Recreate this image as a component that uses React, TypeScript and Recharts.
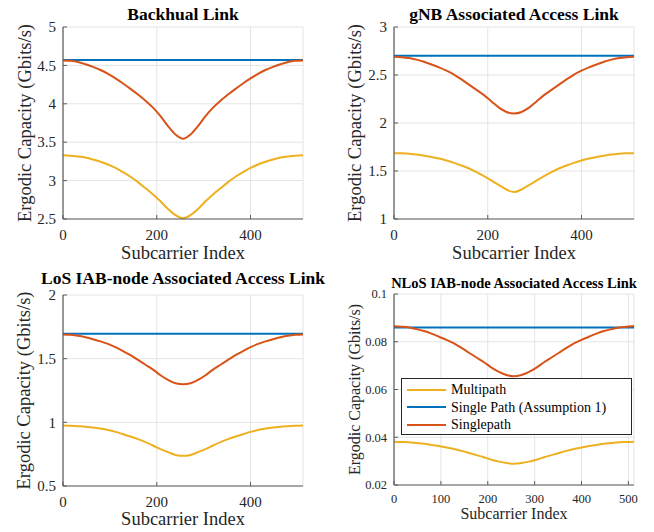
import React from 'react';
import { LineChart, Line, XAxis, YAxis, CartesianGrid, Legend } from 'recharts';

const subcarrier = [
  0, 16, 32, 48, 64, 80, 96, 112, 128, 144, 160, 176, 192, 208, 224, 240, 256,
  272, 288, 304, 320, 336, 352, 368, 384, 400, 416, 432, 448, 464, 480, 496, 512,
];
// the assumption-1 line is flat, so only its two ends are given
const assumptionIdx = [0, 512];

const backhaulMulti = [
  3.33, 3.325, 3.315, 3.3, 3.275, 3.245, 3.21, 3.165, 3.11, 3.05, 2.98, 2.9, 2.82, 2.73, 2.63, 2.55, 2.51,
  2.55, 2.63, 2.73, 2.82, 2.9, 2.98, 3.05, 3.11, 3.165, 3.21, 3.245, 3.275, 3.3, 3.315, 3.325, 3.33,
];
const backhaulAssump = [4.57, 4.57];
const backhaulSingle = [
  4.565, 4.56, 4.545, 4.515, 4.48, 4.44, 4.39, 4.33, 4.265, 4.195, 4.12, 4.04, 3.95, 3.84, 3.71, 3.6, 3.545,
  3.6, 3.71, 3.84, 3.95, 4.04, 4.12, 4.195, 4.265, 4.33, 4.39, 4.44, 4.48, 4.515, 4.545, 4.56, 4.565,
];

const gnbMulti = [
  1.686, 1.684, 1.68, 1.671, 1.66, 1.646, 1.63, 1.609, 1.585, 1.557, 1.526, 1.488, 1.446, 1.4, 1.354, 1.307, 1.28,
  1.307, 1.354, 1.4, 1.446, 1.488, 1.526, 1.557, 1.585, 1.609, 1.63, 1.646, 1.66, 1.671, 1.68, 1.684, 1.686,
];
const gnbAssump = [2.7, 2.7];
const gnbSingle = [
  2.69, 2.686, 2.676, 2.66, 2.638, 2.61, 2.58, 2.545, 2.505, 2.455, 2.4, 2.345, 2.29, 2.225, 2.16, 2.115, 2.1,
  2.115, 2.16, 2.225, 2.29, 2.345, 2.4, 2.455, 2.505, 2.545, 2.58, 2.61, 2.638, 2.66, 2.676, 2.686, 2.69,
];

const losMulti = [
  0.976, 0.974, 0.97, 0.966, 0.96, 0.951, 0.94, 0.925, 0.907, 0.889, 0.868, 0.844, 0.818, 0.79, 0.766, 0.744, 0.737,
  0.744, 0.766, 0.79, 0.818, 0.844, 0.868, 0.889, 0.907, 0.925, 0.94, 0.951, 0.96, 0.966, 0.97, 0.974, 0.976,
];
const losAssump = [1.695, 1.695];
const losSingle = [
  1.69, 1.687, 1.68, 1.668, 1.653, 1.636, 1.616, 1.59, 1.56, 1.527, 1.49, 1.452, 1.414, 1.37, 1.333, 1.307, 1.3,
  1.307, 1.333, 1.37, 1.414, 1.452, 1.49, 1.527, 1.56, 1.59, 1.616, 1.636, 1.653, 1.668, 1.68, 1.687, 1.69,
];

const nlosMulti = [
  0.0381, 0.038, 0.0379, 0.0376, 0.0373, 0.0368, 0.0363, 0.0357, 0.0351, 0.0343, 0.0334, 0.0325, 0.0316, 0.0306, 0.0298, 0.0292, 0.0289,
  0.0292, 0.0298, 0.0306, 0.0316, 0.0325, 0.0334, 0.0343, 0.0351, 0.0357, 0.0363, 0.0368, 0.0373, 0.0376, 0.0379, 0.038, 0.0381,
];
const nlosAssump = [0.086, 0.086];
const nlosSingle = [
  0.0865, 0.0863, 0.086, 0.0853, 0.0845, 0.0834, 0.0821, 0.0808, 0.0793, 0.0774, 0.0754, 0.0734, 0.0714, 0.0692, 0.0674, 0.0661, 0.0655,
  0.0661, 0.0674, 0.0692, 0.0714, 0.0734, 0.0754, 0.0774, 0.0793, 0.0808, 0.0821, 0.0834, 0.0845, 0.0853, 0.086, 0.0863, 0.0866,
];

const xTicksCoarse = [0, 200, 400];
const xTicksFine = [0, 100, 200, 300, 400, 500];
const backhaulYTicks = [2.5, 3, 3.5, 4, 4.5, 5];
const gnbYTicks = [1, 1.5, 2, 2.5, 3];
const losYTicks = [0.5, 1, 1.5, 2];
const nlosYTicks = [0.02, 0.04, 0.06, 0.08, 0.1];

const seriesNames = ['Multipath', 'Single Path (Assumption 1)', 'Singlepath'];

const COLORS = { multi: '#EDB120', assump: '#0072BD', single: '#D95319' };
const FONT = '"Liberation Serif", "Times New Roman", serif';
const AXIS = '#5c5c5c';
const TEXT = '#262626';
const TICK_LEN = 4;

const makeRows = (multi: number[], single: number[]) =>
  subcarrier.map((s, i) => ({ s, multi: multi[i], single: single[i] }));
const makeFlat = (vals: number[]) => assumptionIdx.map((s, i) => ({ s, assump: vals[i] }));

const BottomTick = (p: any) => (
  <g>
    <line x1={p.x} y1={p.y} x2={p.x} y2={p.y - TICK_LEN} stroke={AXIS} />
    <text x={p.x} y={p.y + p.dy} textAnchor="middle" fontSize={p.fs} fill={TEXT} fontFamily={FONT}>
      {p.payload.value}
    </text>
  </g>
);

const LeftTick = (p: any) => (
  <g>
    <line x1={p.x} y1={p.y} x2={p.x + TICK_LEN} y2={p.y} stroke={AXIS} />
    <text x={p.x - 7} y={p.y} dy="0.35em" textAnchor="end" fontSize={p.fs} fill={TEXT} fontFamily={FONT}>
      {p.payload.value}
    </text>
  </g>
);

const TopTick = (p: any) => <line x1={p.x} y1={p.y} x2={p.x} y2={p.y + TICK_LEN} stroke={AXIS} />;
const RightTick = (p: any) => <line x1={p.x} y1={p.y} x2={p.x - TICK_LEN} y2={p.y} stroke={AXIS} />;

const LegendBox = ({ payload }: any) => (
  <div
    style={{
      border: '1px solid #262626',
      background: '#fff',
      width: 231,
      height: 57,
      boxSizing: 'border-box',
      paddingTop: 2,
      fontFamily: FONT,
      fontSize: 14,
      color: '#000',
    }}
  >
    {(payload || []).map((e: any) => (
      <div key={e.value} style={{ display: 'flex', alignItems: 'center', height: 17.5, lineHeight: '17.5px' }}>
        <span style={{ display: 'inline-block', width: 39, height: 2, background: e.color, marginLeft: 5, marginRight: 5 }} />
        <span>{e.value}</span>
      </div>
    ))}
  </div>
);

interface PanelProps {
  left: number;
  top: number;
  title: string;
  titleSize: number;
  titleTop: number;
  rows: any[];
  flat: any[];
  yDomain: [number, number];
  yTicks: number[];
  xTicks: number[];
  yAxisWidth: number;
  marginTop: number;
  marginRight: number;
  xAxisHeight: number;
  tickSize: number;
  xTickDy: number;
  labelSize: number;
  xLabelOffset: number;
  yLabelOffset: number;
  legend?: boolean;
}

function Panel(p: PanelProps) {
  const plotW = 327 - p.yAxisWidth - p.marginRight;
  return (
    <div style={{ position: 'absolute', left: p.left, top: p.top, width: 327, height: 266 }}>
      <LineChart
        width={327}
        height={266}
        data={p.rows}
        margin={{ top: p.marginTop, right: p.marginRight, bottom: 0, left: 0 }}
      >
        <CartesianGrid stroke="#e4e4e4" strokeWidth={1} />
        <XAxis
          dataKey="s"
          type="number"
          domain={[0, 512]}
          ticks={p.xTicks}
          interval={0}
          height={p.xAxisHeight}
          axisLine={{ stroke: AXIS, strokeWidth: 1.2 }}
          tickLine={false}
          tickSize={0}
          tickMargin={0}
          tick={(t: any) => <BottomTick {...t} fs={p.tickSize} dy={p.xTickDy} />}
          label={{
            value: 'Subcarrier Index',
            position: 'insideBottom',
            offset: p.xLabelOffset,
            fontSize: p.labelSize,
            fill: TEXT,
            fontFamily: FONT,
          }}
        />
        <XAxis
          xAxisId="top"
          orientation="top"
          type="number"
          domain={[0, 512]}
          ticks={p.xTicks}
          interval={0}
          height={0}
          axisLine={{ stroke: AXIS, strokeWidth: 1.2 }}
          tickLine={false}
          tickSize={0}
          tickMargin={0}
          tick={TopTick}
        />
        <YAxis
          type="number"
          domain={p.yDomain}
          ticks={p.yTicks}
          interval={0}
          width={p.yAxisWidth}
          axisLine={{ stroke: AXIS, strokeWidth: 1.2 }}
          tickLine={false}
          tickSize={0}
          tickMargin={0}
          tick={(t: any) => <LeftTick {...t} fs={p.tickSize} />}
          label={{
            value: 'Ergodic Capacity (Gbits/s)',
            angle: -90,
            position: 'insideLeft',
            offset: p.yLabelOffset,
            fontSize: p.labelSize,
            fill: TEXT,
            fontFamily: FONT,
            style: { textAnchor: 'middle' },
          }}
        />
        <YAxis
          yAxisId="right"
          orientation="right"
          type="number"
          domain={p.yDomain}
          ticks={p.yTicks}
          interval={0}
          width={0}
          axisLine={{ stroke: AXIS, strokeWidth: 1.2 }}
          tickLine={false}
          tickSize={0}
          tickMargin={0}
          tick={RightTick}
        />
        <Line type="monotone" dataKey="multi" name={seriesNames[0]} stroke={COLORS.multi} strokeWidth={2} dot={false} isAnimationActive={false} />
        <Line data={p.flat} type="linear" dataKey="assump" name={seriesNames[1]} stroke={COLORS.assump} strokeWidth={2} dot={false} isAnimationActive={false} />
        <Line type="monotone" dataKey="single" name={seriesNames[2]} stroke={COLORS.single} strokeWidth={2} dot={false} isAnimationActive={false} />
        {p.legend && (
          <Legend
            layout="vertical"
            align="center"
            verticalAlign="middle"
            wrapperStyle={{ left: 74, top: 112, width: 231 }}
            content={LegendBox}
          />
        )}
      </LineChart>
      <div
        style={{
          position: 'absolute',
          left: p.yAxisWidth - 60,
          width: plotW + 120,
          top: p.titleTop,
          textAlign: 'center',
          fontFamily: FONT,
          fontWeight: 'bold',
          fontSize: p.titleSize,
          lineHeight: 1,
          whiteSpace: 'nowrap',
          color: '#000',
        }}
      >
        {p.title}
      </div>
    </div>
  );
}

export default function App() {
  return (
    <div style={{ position: 'absolute', left: 0, top: 0, width: 654, height: 532, background: '#fff', fontFamily: FONT }}>
      <Panel
        left={0}
        top={0}
        title="Backhual Link"
        titleSize={17.5}
        titleTop={6}
        rows={makeRows(backhaulMulti, backhaulSingle)}
        flat={makeFlat(backhaulAssump)}
        yDomain={[2.5, 5]}
        yTicks={backhaulYTicks}
        xTicks={xTicksCoarse}
        yAxisWidth={63}
        marginTop={27}
        marginRight={24}
        xAxisHeight={47}
        tickSize={15}
        xTickDy={21}
        labelSize={18.5}
        xLabelOffset={7}
        yLabelOffset={24}
      />
      <Panel
        left={327}
        top={0}
        title="gNB Associated Access Link"
        titleSize={17.5}
        titleTop={6}
        rows={makeRows(gnbMulti, gnbSingle)}
        flat={makeFlat(gnbAssump)}
        yDomain={[1, 3]}
        yTicks={gnbYTicks}
        xTicks={xTicksCoarse}
        yAxisWidth={67}
        marginTop={27}
        marginRight={20}
        xAxisHeight={47}
        tickSize={15}
        xTickDy={21}
        labelSize={18.5}
        xLabelOffset={7}
        yLabelOffset={27}
      />
      <Panel
        left={0}
        top={266}
        title="LoS IAB-node Associated Access Link"
        titleSize={17.5}
        titleTop={3.5}
        rows={makeRows(losMulti, losSingle)}
        flat={makeFlat(losAssump)}
        yDomain={[0.5, 2]}
        yTicks={losYTicks}
        xTicks={xTicksCoarse}
        yAxisWidth={63}
        marginTop={29}
        marginRight={24}
        xAxisHeight={46}
        tickSize={15}
        xTickDy={21}
        labelSize={18.5}
        xLabelOffset={7}
        yLabelOffset={23}
      />
      <Panel
        left={327}
        top={266}
        title="NLoS IAB-node Associated Access Link"
        titleSize={14.5}
        titleTop={9.5}
        rows={makeRows(nlosMulti, nlosSingle)}
        flat={makeFlat(nlosAssump)}
        yDomain={[0.02, 0.1]}
        yTicks={nlosYTicks}
        xTicks={xTicksFine}
        yAxisWidth={67}
        marginTop={28}
        marginRight={20}
        xAxisHeight={47}
        tickSize={12.5}
        xTickDy={18}
        labelSize={16}
        xLabelOffset={13}
        yLabelOffset={27}
        legend
      />
    </div>
  );
}
